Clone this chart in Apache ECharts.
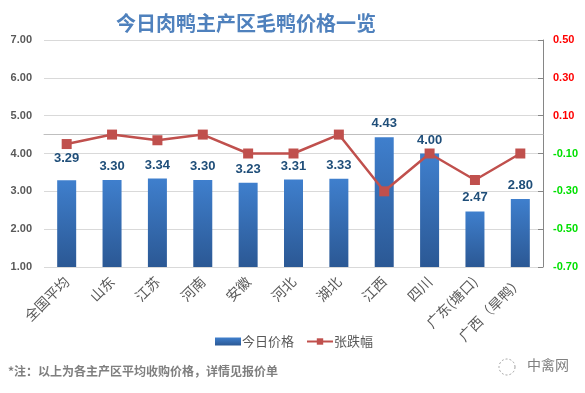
<!DOCTYPE html>
<html><head><meta charset="utf-8">
<script src="https://cdn.jsdelivr.net/npm/echarts@6/dist/echarts.min.js"></script>
<style>html,body{margin:0;padding:0;background:#fff}#c{width:585px;height:393px}</style>
</head><body><div id="c"></div>
<script>
const categories = ['全国平均','山东','江苏','河南','安徽','河北','湖北','江西','四川','广东(塘口)','广西（旱鸭）'];
const prices = [3.29,3.30,3.34,3.30,3.23,3.31,3.33,4.43,4.00,2.47,2.80];
const changes = [-0.05,0.00,-0.03,0.00,-0.10,-0.10,0.00,-0.30,-0.10,-0.24,-0.10];
const leftTicks = {min:1, max:7, interval:1};
const rightTicks = {min:-0.7, max:0.5, interval:0.2};

const chart = echarts.init(document.getElementById('c'));
const font = '"Microsoft YaHei","Noto Sans CJK SC",sans-serif';
const barData = prices.map((v,i)=> i===0 ? {value:v, label:{distance:15}} : v);
chart.setOption({
  animation:false,
  textStyle:{fontFamily:font},
  title:{text:'今日肉鸭主产区毛鸭价格一览', left:241, top:8, textAlign:'center',
    textStyle:{fontSize:20, fontWeight:'bold', color:'#4f81bd', fontFamily:font}},
  grid:{left:44, right:42, top:40, bottom:126},
  legend:{top:330, left:210, itemGap:12, itemWidth:26, itemHeight:8,
    textStyle:{fontSize:13, color:'#595959', fontFamily:font, padding:[0,0,0,-4]},
    data:[{name:'今日价格', icon:'rect'},{name:'张跌幅'}]},
  xAxis:{type:'category', data:categories,
    axisLine:{lineStyle:{color:'#bfbfbf'}}, axisTick:{show:false},
    axisLabel:{rotate:45, interval:0, fontSize:14, color:'#595959', margin:12, fontFamily:font}},
  yAxis:[
    {type:'value', min:leftTicks.min, max:leftTicks.max, interval:leftTicks.interval,
     axisLine:{show:false}, axisTick:{show:false},
     splitLine:{lineStyle:{color:'#d9d9d9'}},
     axisLabel:{formatter:v=>v.toFixed(2), fontSize:11, fontWeight:'bold', color:'#595959', margin:12, fontFamily:'Arial, "Liberation Sans", sans-serif'}},
    {type:'value', min:rightTicks.min, max:rightTicks.max, interval:rightTicks.interval,
     axisLine:{show:true, lineStyle:{color:'#868686'}},
     axisTick:{show:true, inside:true, length:5, lineStyle:{color:'#868686'}},
     splitLine:{show:false},
     axisLabel:{formatter:v=>(Math.round(v*100)/100).toFixed(2), fontSize:11, fontWeight:'bold', margin:10,
       fontFamily:'Arial, "Liberation Sans", sans-serif',
       color:v=> (parseFloat(v) > 0 ? '#ff0000' : '#00e000')}}
  ],
  series:[
    {name:'今日价格', type:'bar', data:barData, barWidth:19, yAxisIndex:0,
     itemStyle:{color:new echarts.graphic.LinearGradient(0,0,0,1,[{offset:0,color:'#3f7fcd'},{offset:1,color:'#2b5894'}])},
     label:{show:true, position:'top', distance:7, formatter:p=>p.value.toFixed(2),
       fontSize:13, fontWeight:'bold', color:'#1f4e79', fontFamily:'Arial, "Liberation Sans", sans-serif'}},
    {name:'张跌幅', type:'line', data:changes, yAxisIndex:1,
     symbol:'rect', symbolSize:10,
     lineStyle:{color:'#c0504d', width:2.5}, itemStyle:{color:'#c0504d'}}
  ],
  graphic:[
    {type:'text', left:8, top:365, style:{text:'*注：以上为各主产区平均收购价格，详情见报价单', fill:'#7f7f7f', font:'bold 12px '+font}},
    {type:'text', left:527, top:358, style:{text:'中禽网', fill:'#808080', font:'14px '+font}},
    {type:'circle', shape:{cx:507, cy:367, r:8}, style:{fill:'none', stroke:'#a0a0a0', lineWidth:1, lineDash:[2,2]}}
  ]
});
</script></body></html>
